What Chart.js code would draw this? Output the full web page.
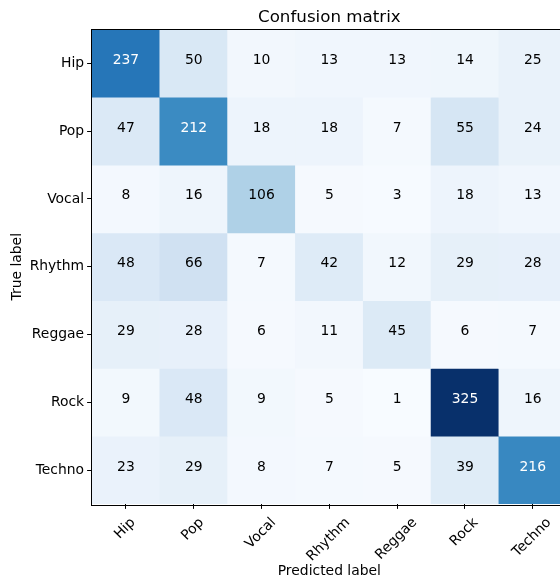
<!DOCTYPE html>
<html><head><meta charset="utf-8">
<script src="https://cdn.jsdelivr.net/npm/chart.js@4.4.0/dist/chart.umd.min.js"></script>
<style>
html,body{margin:0;padding:0;overflow:hidden;background:#fff;width:560px;height:580px}
#wrap{position:absolute;left:0;top:0;width:580px;height:580px}
</style>
</head><body><div id="wrap"><canvas id="c" width="580" height="580"></canvas></div>
<script>
// ---- data ----
const predictedLabels = ['Hip', 'Pop', 'Vocal', 'Rhythm', 'Reggae', 'Rock', 'Techno'];
const trueLabels = ['Hip', 'Pop', 'Vocal', 'Rhythm', 'Reggae', 'Rock', 'Techno'];
const hipRow    = [237, 50, 10, 13, 13, 14, 25];
const popRow    = [47, 212, 18, 18, 7, 55, 24];
const vocalRow  = [8, 16, 106, 5, 3, 18, 13];
const rhythmRow = [48, 66, 7, 42, 12, 29, 28];
const reggaeRow = [29, 28, 6, 11, 45, 6, 7];
const rockRow   = [9, 48, 9, 5, 1, 325, 16];
const technoRow = [23, 29, 8, 7, 5, 39, 216];
const matrix = [hipRow, popRow, vocalRow, rhythmRow, reggaeRow, rockRow, technoRow];
const chartTitle = 'Confusion matrix';
const xTitle = 'Predicted label';
const yTitle = 'True label';

// ---- colour map (matplotlib "Blues") ----
const bluesStops = ['#f7fbff','#deebf7','#c6dbef','#9ecae1','#6baed6','#4292c6','#2171b5','#08519c','#08306b']
  .map(h => [parseInt(h.slice(1,3),16), parseInt(h.slice(3,5),16), parseInt(h.slice(5,7),16)]);
const allVals = matrix.flat();
const vmin = Math.min(...allVals), vmax = Math.max(...allVals);
function blues(v) {
  let t = (v - vmin) / (vmax - vmin);
  let idx = Math.min(255, Math.max(0, Math.floor(t * 256)));
  t = idx / 255;
  const p = t * (bluesStops.length - 1);
  const i = Math.min(bluesStops.length - 2, Math.floor(p));
  const f = p - i;
  const a = bluesStops[i], b = bluesStops[i + 1];
  return 'rgb(' + a.map((c, k) => Math.round(c + (b[k] - c) * f)).join(',') + ')';
}
const thresh = vmax / 2;

const FONT = '"DejaVu Sans"';
Chart.defaults.font.family = FONT;
Chart.defaults.color = '#000';

const datasets = matrix.map((row, r) => ({
  label: trueLabels[r],
  data: row.map(() => [r - 0.5, r + 0.5]),
  backgroundColor: row.map(v => blues(v)),
  borderWidth: 0,
  barPercentage: 1,
  categoryPercentage: 1,
  grouped: false
}));

const overlay = {
  id: 'overlay',
  afterDatasetsDraw(chart) {
    const ctx = chart.ctx, xs = chart.scales.x, ys = chart.scales.y, a = chart.chartArea;
    ctx.save();
    ctx.font = '13.9px ' + FONT;
    ctx.textAlign = 'center';
    ctx.textBaseline = 'alphabetic';
    matrix.forEach((row, r) => row.forEach((v, c) => {
      ctx.fillStyle = v > thresh ? '#fff' : '#000';
      ctx.fillText(String(v), xs.getPixelForValue(c), ys.getPixelForValue(r) + 0.5);
    }));
    // frame
    ctx.strokeStyle = '#000';
    ctx.lineWidth = 1;
    ctx.strokeRect(Math.round(a.left) - 0.5, Math.round(a.top) - 0.5, Math.round(a.right - a.left) + 1, Math.round(a.bottom - a.top) + 1);
    ctx.restore();
  },
  afterDraw(chart) {
    const ctx = chart.ctx, xs = chart.scales.x;
    ctx.save();
    ctx.font = '13.9px ' + FONT;
    ctx.fillStyle = '#000';
    const y0 = xs.top + 11.5;
    const h = 13.45, d = 2.9;
    predictedLabels.forEach((lab, i) => {
      const x = xs.getPixelForTick(i) - 1;
      const w = ctx.measureText(lab).width;
      const cy = y0 + (w + h) / (2 * Math.SQRT2);
      ctx.save();
      ctx.translate(x, cy);
      ctx.rotate(-Math.PI / 4);
      ctx.textAlign = 'center';
      ctx.textBaseline = 'alphabetic';
      ctx.fillText(lab, 0, h / 2 - d);
      ctx.restore();
    });
    ctx.restore();
  }
};

new Chart(document.getElementById('c'), {
  type: 'bar',
  data: { labels: predictedLabels, datasets },
  options: {
    responsive: false,
    animation: false,
    layout: { padding: { left: 0, top: 0, right: 13.3, bottom: 0 } },
    plugins: {
      legend: { display: false },
      tooltip: { enabled: false },
      title: {
        display: true, text: chartTitle, fullSize: false,
        font: { size: 16.7, weight: 'normal', family: FONT }, color: '#000',
        padding: { top: 8, bottom: 1.46 }
      }
    },
    scales: {
      x: {
        type: 'category',
        offset: true,
        grid: { display: true, drawOnChartArea: false, drawTicks: true, tickLength: 4.9, offset: false, color: '#000', lineWidth: 1 },
        border: { display: false },
        ticks: { display: false },
        title: { display: true, text: xTitle, font: { size: 13.9, family: FONT }, color: '#000', padding: { top: 0, bottom: 0.4 } },
        afterFit(s) { s.height = 76; }
      },
      y: {
        type: 'linear',
        reverse: true,
        min: -0.5, max: 6.5,
        afterBuildTicks(s) { s.ticks = trueLabels.map((_, i) => ({ value: i })); },
        grid: { display: true, drawOnChartArea: false, drawTicks: true, tickLength: 4.9, color: '#000', lineWidth: 1 },
        border: { display: false },
        ticks: { padding: 3, font: { size: 13.9, family: FONT }, color: '#000', callback: (v) => trueLabels[v] },
        title: { display: true, text: yTitle, font: { size: 13.9, family: FONT }, color: '#000', padding: { top: 9.5, bottom: 0 } },
        afterFit(s) { s.width = 92; }
      }
    }
  },
  plugins: [overlay]
});
</script>
</body></html>
